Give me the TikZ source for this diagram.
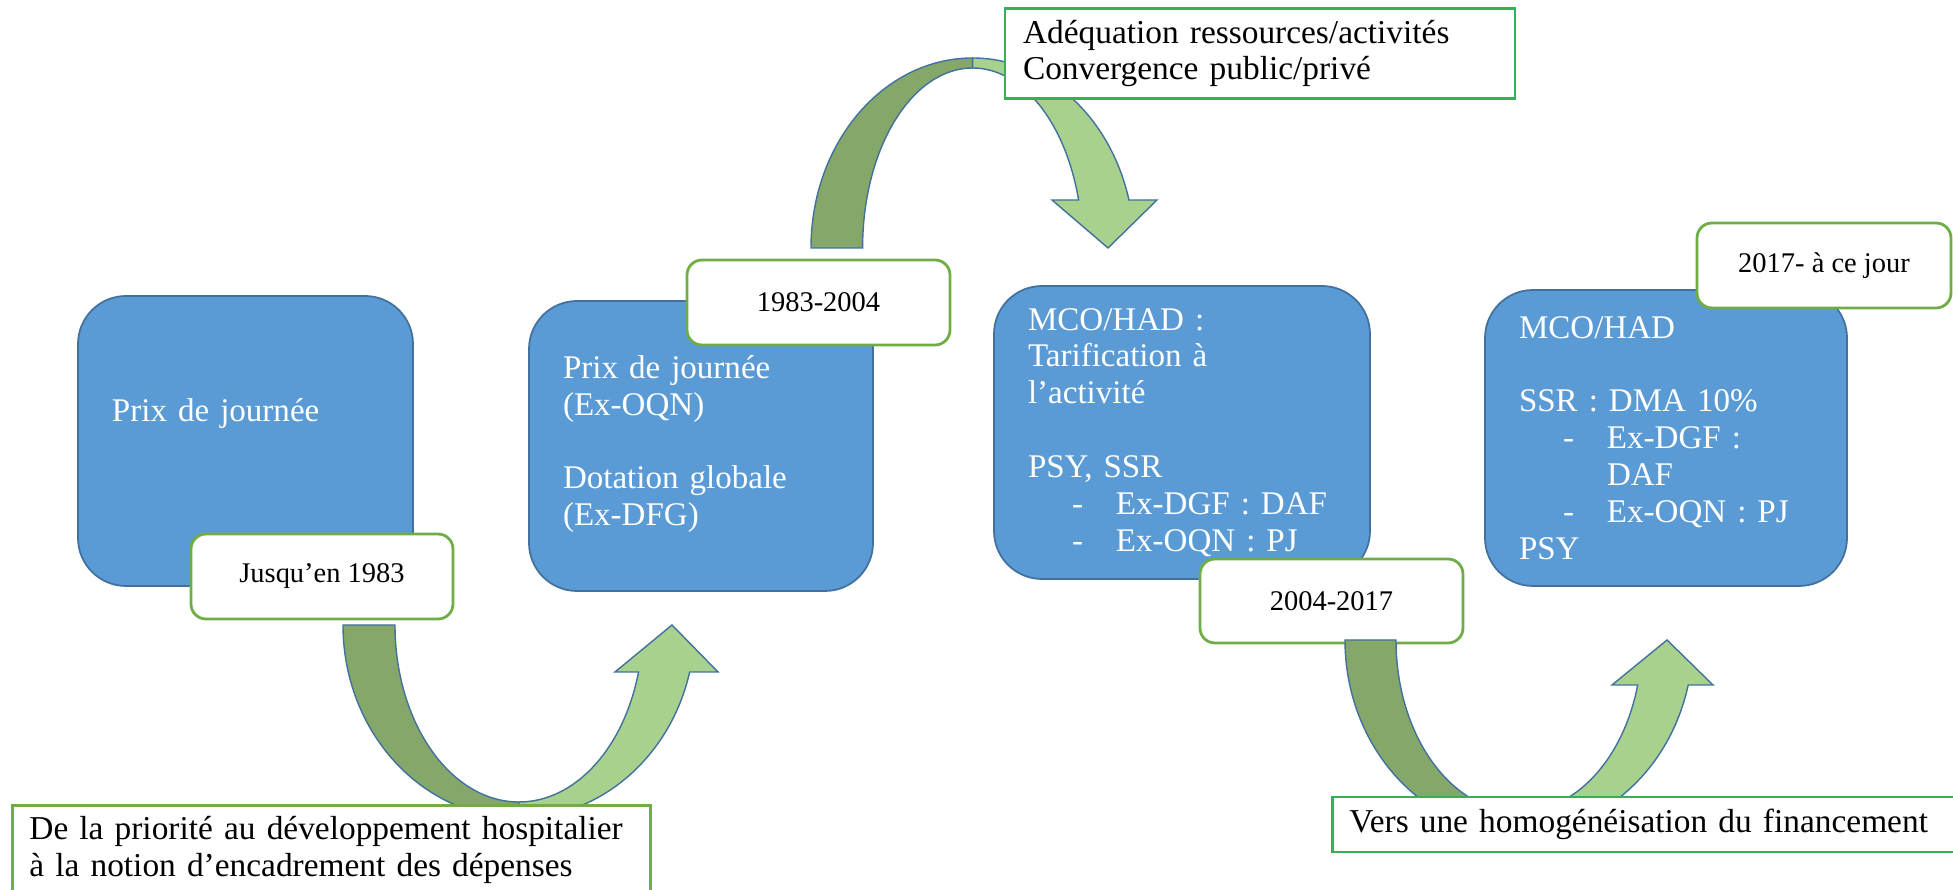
\documentclass[tikz,border=0pt]{standalone}
\usepackage{fontspec}
\setmainfont{Liberation Serif}
\definecolor{boxblue}{HTML}{5B9BD5}
\definecolor{boxedge}{HTML}{41719C}
\definecolor{darkolive}{RGB}{134,167,106}
\definecolor{lightolive}{RGB}{169,209,142}
\definecolor{labelgreen}{HTML}{70AD47}
\definecolor{framegreen}{RGB}{51,176,90}
\newcommand{\tiret}{\hspace*{0.44cm}\makebox[0.44cm][l]{-}}

\begin{document}
\begin{tikzpicture}[font=\fontsize{9.4}{10.5}\selectfont,
		etape/.style={rectangle, rounded corners=0.48cm, fill=boxblue, draw=boxedge, line width=0.5pt, text=white, align=left, inner xsep=0.34cm},
		periode/.style={rectangle, rounded corners=0.15cm, fill=white, draw=labelgreen, line width=0.8pt, minimum height=0.85cm, font=\fontsize{8.1}{9.5}\selectfont},
		encadre/.style={rectangle, fill=white, draw=framegreen, line width=0.8pt, align=left, font=\fontsize{9.5}{10.4}\selectfont},
		arcqueue/.style={fill=darkolive, draw=boxedge, line width=0.4pt},
		arctete/.style={fill=lightolive, draw=boxedge, line width=0.4pt}]
		\useasboundingbox (0,0) rectangle (19.53,-8.90);
		\clip (0,0) rectangle (19.53,-8.90);
		% stages
		\node[etape, text width=2.67cm, minimum height=2.90cm] (pj) at (2.455,-4.41) {Prix de journée\\[7.4pt]\mbox{}};
		\node[etape, text width=2.76cm, minimum height=2.90cm] (dotation) at (7.01,-4.46) {Prix de journée\\(Ex-OQN)\\[10.5pt]Dotation globale\\(Ex-DFG)\\[-7.4pt]\mbox{}};
		\node[etape, text width=3.08cm, minimum height=2.93cm] (t2a) at (11.82,-4.325) {MCO/HAD :\\Tarification à\\l’activité\\[10.5pt]PSY, SSR\\\tiret Ex-DGF : DAF\\\tiret Ex-OQN : PJ};
		\node[etape, text width=2.94cm, minimum height=2.96cm] (dma) at (16.66,-4.38) {MCO/HAD\\[10.5pt]SSR : DMA 10\%\\\tiret Ex-DGF :\\\hspace*{0.88cm}DAF\\\tiret Ex-OQN : PJ\\PSY};
		% periods
		\node[periode, minimum width=2.62cm] (avant83) at (3.22,-5.765) {Jusqu’en 1983};
		\node[periode, minimum width=2.63cm] (p8304) at (8.185,-3.025) {1983-2004};
		\node[periode, minimum width=2.63cm, minimum height=0.84cm] (p0417) at (13.315,-6.01) {2004-2017};
		\node[periode, minimum width=2.54cm] (p17) at (18.24,-2.655) {2017- à ce jour};
		% curved arrows
		\coordinate (c1) at (5.19,-6.25);
		\coordinate (c2) at (15.19,-6.40);
		\coordinate (c3) at (9.726,-2.48);
		\begin{scope}[shift={(c1)}]
			\draw[arcqueue] (180:1.76 and 1.93) arc[start angle=180, end angle=270, x radius=1.76, y radius=1.93]
				-- (270:1.24 and 1.77) arc[start angle=270, end angle=180, x radius=1.24, y radius=1.77] -- cycle;
			\draw[arctete] (270:1.76 and 1.93) arc[start angle=270, end angle=345.91, x radius=1.76, y radius=1.93]
				-- (1.99,-0.47) -- (1.53,0) -- (0.96,-0.47)
				-- (344.60:1.24 and 1.77) arc[start angle=344.60, end angle=270, x radius=1.24, y radius=1.77] -- cycle;
		\end{scope}
		\begin{scope}[shift={(c2)}]
			\draw[arcqueue] (180:1.74 and 1.93) arc[start angle=180, end angle=270, x radius=1.74, y radius=1.93]
				-- (270:1.23 and 1.72) arc[start angle=270, end angle=180, x radius=1.23, y radius=1.72] -- cycle;
			\draw[arctete] (270:1.74 and 1.93) arc[start angle=270, end angle=346.52, x radius=1.74, y radius=1.93]
				-- (1.94,-0.45) -- (1.48,0) -- (0.93,-0.45)
				-- (344.83:1.23 and 1.72) arc[start angle=344.83, end angle=270, x radius=1.23, y radius=1.72] -- cycle;
		\end{scope}
		\begin{scope}[shift={(c3)}, yscale=-1]
			\draw[arcqueue] (180:1.616 and 1.90) arc[start angle=180, end angle=270, x radius=1.616, y radius=1.90]
				-- (270:1.10 and 1.80) arc[start angle=270, end angle=180, x radius=1.10, y radius=1.80] -- cycle;
			\draw[arctete] (270:1.616 and 1.90) arc[start angle=270, end angle=345.37, x radius=1.616, y radius=1.90]
				-- (1.844,-0.48) -- (1.354,0) -- (0.794,-0.48)
				-- (344.53:1.10 and 1.80) arc[start angle=344.53, end angle=270, x radius=1.10, y radius=1.80] -- cycle;
		\end{scope}
		% text frames
		\node[encadre, text width=4.74cm, inner xsep=0.18cm, minimum height=0.89cm] (adequation) at (12.60,-0.535) {Adéquation ressources/activités\\Convergence public/privé};
		\node[encadre, draw=labelgreen, anchor=north west, text width=6.04cm, inner xsep=0.17cm, inner ysep=0.11cm] (priorite) at (0.11,-8.04) {De la priorité au développement hospitalier\\à la notion d’encadrement des dépenses};
		\node[encadre, anchor=west, text width=6.3cm, inner xsep=0.17cm, inner ysep=0pt, minimum height=0.55cm] (homog) at (13.31,-8.245) {Vers une homogénéisation du financement};
	\end{tikzpicture}
\end{document}
